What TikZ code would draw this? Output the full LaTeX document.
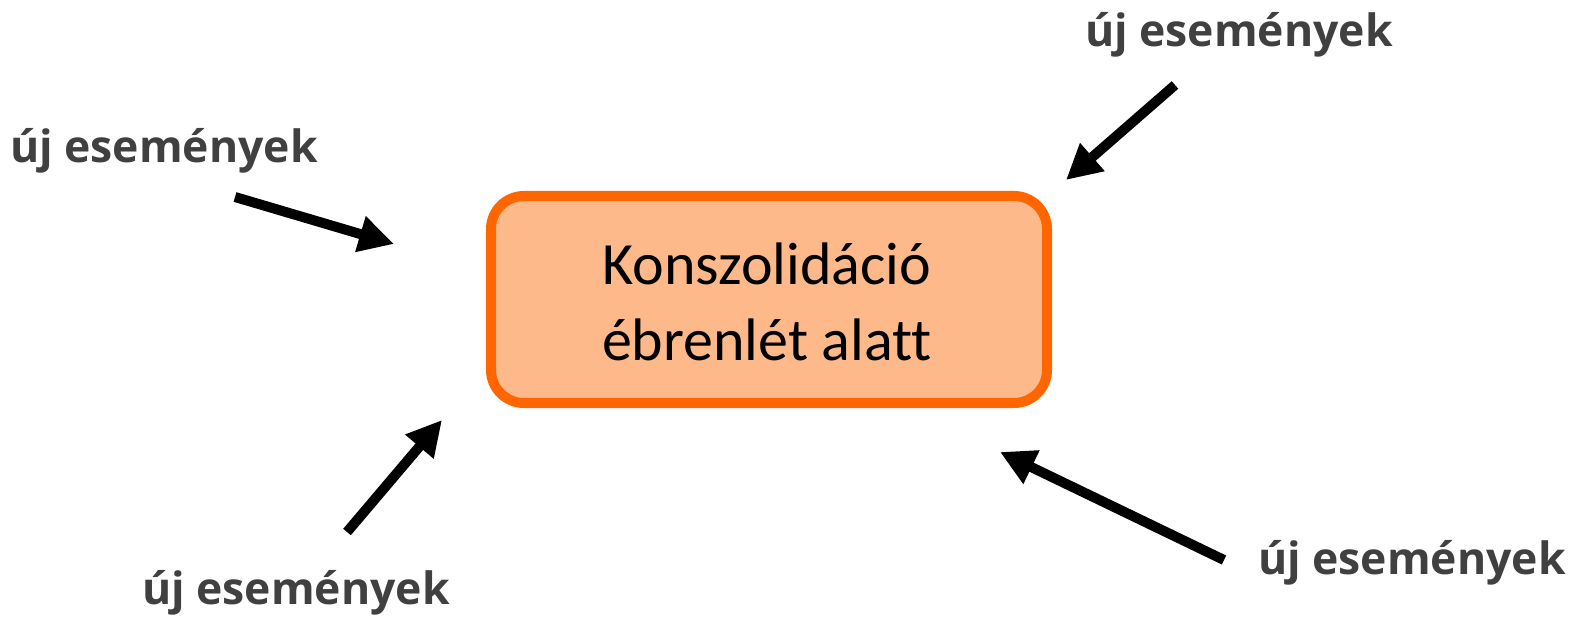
\documentclass[tikz,border=0pt]{standalone}
\usepackage{fontspec}
\setmainfont{Carlito}[Ligatures=NoCommon]
\newfontfamily\labelfont{Open Sans}
\usetikzlibrary{arrows.meta}
\definecolor{boxfill}{HTML}{FDB98A}
\definecolor{boxline}{HTML}{FF6600}
\definecolor{labelgray}{HTML}{404040}
\tikzset{
  conbox/.style={draw=boxline, fill=boxfill, line width=10pt, rounded corners=33pt},
  evlabel/.style={text=labelgray, font=\labelfont\fontsize{44.5}{52}\selectfont\bfseries, inner sep=0pt, anchor=base west},
  evarrow/.style={line width=10pt, -{Triangle[length=35pt,width=35pt]}}
}
\begin{document}
\begin{tikzpicture}[x=1pt,y=-1pt]
\useasboundingbox (0,0) rectangle (1574,617);
\draw[conbox] (491,196) rectangle (1047,403);
\node (main) at (767,302) [align=center, inner sep=0pt, font=\fontsize{60}{76}\selectfont] {Konszolidáció\\ébrenlét alatt};
\node[evlabel] (l1) at (10,163) {új események};
\node[evlabel] (l2) at (1085,47) {új események};
\node[evlabel] (l3) at (142,604) {új események};
\node[evlabel] (l4) at (1258,574) {új események};
\coordinate (t1) at (235,197); \coordinate (h1) at (394,244);
\coordinate (t2) at (1175,85); \coordinate (h2) at (1066,180);
\coordinate (t3) at (347,532); \coordinate (h3) at (442,420);
\coordinate (t4) at (1224,560); \coordinate (h4) at (1000,452);
\draw[evarrow] (t1) -- (h1);
\draw[evarrow] (t2) -- (h2);
\draw[evarrow] (t3) -- (h3);
\draw[evarrow] (t4) -- (h4);
\end{tikzpicture}
\end{document}
